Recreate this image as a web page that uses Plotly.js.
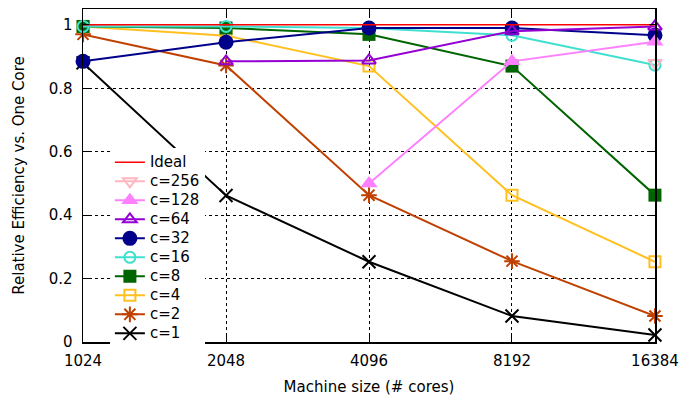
<!DOCTYPE html>
<html>
<head>
<meta charset="utf-8">
<script src="https://cdn.plot.ly/plotly-3.0.1.min.js"></script>
<style>html,body{margin:0;padding:0;background:#fff;}#chart{width:680px;height:396px;}</style>
</head>
<body>
<div id="chart"></div>
<script>
const cores = [1024, 2048, 4096, 8192, 16384];
const tickLabels = ["1024", "2048", "4096", "8192", "16384"];
const seriesNames = ["Ideal", "c=256", "c=128", "c=64", "c=32", "c=16", "c=8", "c=4", "c=2", "c=1"];

const ideal = [1, 1, 1, 1, 1];
const c256 = [null, null, null, null, 0.88];
const c128 = [null, null, 0.50, 0.885, 0.947];
const c64  = [null, 0.885, 0.888, 0.98, 0.995];
const c32  = [0.885, 0.945, 0.99, 0.99, 0.967];
const c16  = [0.995, 0.995, 0.99, 0.967, 0.873];
const c8   = [0.995, 0.99, 0.97, 0.87, 0.463];
const c4   = [0.995, 0.966, 0.87, 0.463, 0.253];
const c2   = [0.97, 0.872, 0.463, 0.255, 0.082];
const c1   = [0.88, 0.462, 0.253, 0.082, 0.022];

function label(n) { return '<span style="font-size:15px">' + n + '</span>'; }

function tr(name, y, color, symbol, size, filled) {
  return {
    x: cores, y: y, name: label(name), type: 'scatter', mode: 'lines+markers',
    cliponaxis: false, connectgaps: false,
    line: {color: color, width: 2},
    marker: {
      symbol: symbol, size: size, color: color,
      line: {color: color, width: filled ? 0 : 2}
    }
  };
}

const traces = [
  tr(seriesNames[9], c1, '#000000', 'x-thin-open', 13, false),
  tr(seriesNames[8], c2, '#c04000', 'asterisk-open', 13, false),
  tr(seriesNames[7], c4, '#ffc020', 'square-open', 11, false),
  tr(seriesNames[6], c8, '#006400', 'square', 13, true),
  tr(seriesNames[5], c16, '#40e0d0', 'circle-open', 11, false),
  tr(seriesNames[4], c32, '#00008b', 'circle', 15, true),
  tr(seriesNames[3], c64, '#9400d3', 'triangle-up-open', 12, false),
  tr(seriesNames[2], c128, '#ff80ff', 'triangle-up', 15, true),
  tr(seriesNames[1], c256, '#ffb6c1', 'triangle-down-open', 12, false),
  {x: cores, y: ideal, name: label(seriesNames[0]), type: 'scatter', mode: 'lines', cliponaxis: false,
   line: {color: '#ff0000', width: 1.5}}
];

const eps = 1e-4;
const layout = {
  width: 680, height: 396,
  margin: {l: 83, r: 25, t: 9, b: 54},
  paper_bgcolor: '#ffffff', plot_bgcolor: '#ffffff',
  font: {family: 'DejaVu Sans, sans-serif', size: 15, color: '#000'},
  showlegend: true,
  legend: {x: 0.047, y: 0.583, xanchor: 'left', yanchor: 'top', traceorder: 'reversed',
           bgcolor: '#ffffff', borderwidth: 0, font: {size: 11.5}, tracegroupgap: 0},
  xaxis: {
    type: 'log', range: [Math.log10(1024) - eps, Math.log10(16384) + eps],
    tickvals: cores, ticktext: tickLabels,
    ticks: 'inside', ticklen: 6, tickcolor: '#000', tickwidth: 1,
    showline: true, linecolor: '#000', linewidth: 1.5, mirror: 'allticks',
    showgrid: true, gridcolor: '#000', griddash: 'dot', gridwidth: 1,
    zeroline: false, tickfont: {size: 15}, ticklabelstandoff: 4, automargin: false,
    title: {text: 'Machine size (# cores)', font: {size: 15}, standoff: 14}
  },
  yaxis: {
    range: [0, 1.05], tickvals: [0, 0.2, 0.4, 0.6, 0.8, 1], ticktext: ['0','0.2','0.4','0.6','0.8','1'],
    ticks: 'inside', ticklen: 6, tickcolor: '#000', tickwidth: 1,
    showline: true, linecolor: '#000', linewidth: 1.5, mirror: 'allticks',
    showgrid: true, gridcolor: '#000', griddash: 'dot', gridwidth: 1,
    zeroline: false, tickfont: {size: 15}, ticklabelstandoff: 6, automargin: false,
    title: {text: 'Relative Efficiency vs. One Core', font: {size: 15}, standoff: 20}
  }
};

Plotly.newPlot('chart', traces, layout, {displayModeBar: false, staticPlot: true});
</script>
</body>
</html>
